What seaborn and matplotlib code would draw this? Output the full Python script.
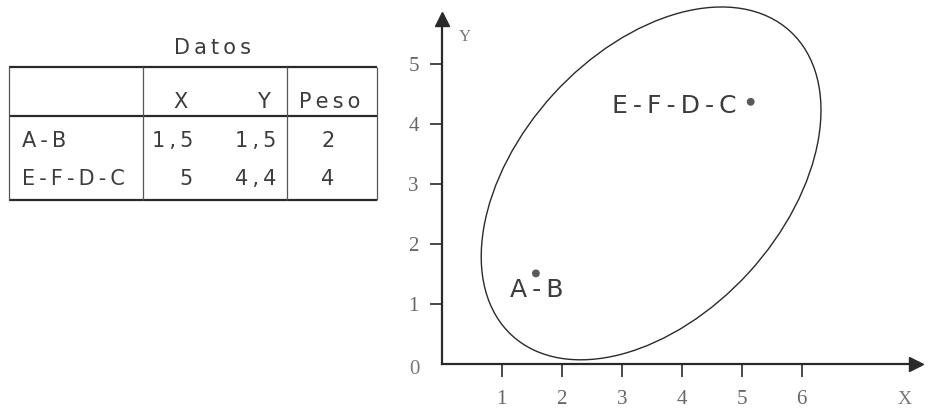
import matplotlib
matplotlib.use("Agg")
import matplotlib.pyplot as plt
from matplotlib.patches import Ellipse
import pandas as pd
import seaborn as sns

# table contents
table_title = "Datos"
col_labels = ["X", "Y", "Peso"]
row_labels = ["A-B", "E-F-D-C"]
x_text = ["1,5", "5"]
y_text = ["1,5", "4,4"]
peso_text = ["2", "4"]

# points as they sit on the drawing
point_names = ["A-B", "E-F-D-C"]
point_x = [1.57, 5.15]
point_y = [1.51, 4.37]

# grouping ellipse
ell_center = (3.49, 3.01)
ell_width = 6.87
ell_height = 4.41
ell_angle = 47.6

x_ticks = [1, 2, 3, 4, 5, 6]
y_ticks = [1, 2, 3, 4, 5]

sns.set_theme(style="white")
plt.rcParams['font.family'] = ['DejaVu Sans']

TEXT = "#3c3c3c"
LINE = "#2a2a2a"
SERIF = "Liberation Serif"


def spaced(s):
    """Loose letter spacing like the typeset original"""
    return "\u2009".join(s)


fig = plt.figure(figsize=(9.3, 4.09), dpi=100)
fig.patch.set_facecolor("white")

# ---- data table (drawn in pixel coordinates) ----
tab = fig.add_axes([0, 0, 400 / 930, 1])
tab.set_xlim(0, 400)
tab.set_ylim(409, 0)
tab.axis("off")

top, mid, bot = 66.7, 115.7, 200
left, c1, c2, right = 9, 143, 286.7, 377
tab.hlines([top, mid, bot], left, right, color=LINE, lw=1.6)
tab.vlines([left, c1, c2, right], top, bot, color="#555555", lw=0.9)

tab.text(212, 48, spaced(table_title), ha="center", va="center", fontsize=15, color=TEXT)
tab.text(180, 101.7, col_labels[0], ha="center", va="center", fontsize=15, color=TEXT)
tab.text(270, 101.7, col_labels[1], ha="right", va="center", fontsize=15, color=TEXT)
tab.text(330, 101.7, spaced(col_labels[2]), ha="center", va="center", fontsize=15, color=TEXT)

row_y = [141, 179]
for i, name in enumerate(row_labels):
    tab.text(21.7, row_y[i], spaced(name), ha="left", va="center", fontsize=15, color=TEXT)
    tab.text(193, row_y[i], spaced(x_text[i]), ha="right", va="center", fontsize=15, color=TEXT)
    tab.text(276, row_y[i], spaced(y_text[i]), ha="right", va="center", fontsize=15, color=TEXT)
    tab.text(328, row_y[i], peso_text[i], ha="center", va="center", fontsize=15, color=TEXT)

# ---- scatter with the ellipse ----
ax = fig.add_axes([441.7 / 930, 45 / 409, 474 / 930, 345 / 409])
ax.set_facecolor("white")
ax.set_xlim(0, 7.9)
ax.set_ylim(0, 5.75)

df = pd.DataFrame({"nombre": point_names, "x": point_x, "y": point_y})
sns.scatterplot(data=df, x="x", y="y", s=32, color="#5a5a5a", edgecolor="none",
                ax=ax, zorder=3, legend=False)

ell = Ellipse(ell_center, ell_width, ell_height, angle=ell_angle,
              fill=False, edgecolor=LINE, lw=1.0, clip_on=False)
ax.add_patch(ell)

ax.annotate(spaced(point_names[0]), (point_x[0], point_y[0]), xytext=(1, -17),
            textcoords="offset pixels", ha="center", va="center",
            fontsize=18, color=TEXT)
ax.annotate(spaced(point_names[1]), (point_x[1], point_y[1]), xytext=(-14, -4),
            textcoords="offset pixels", ha="right", va="center",
            fontsize=18, color=TEXT)

for side in ["top", "right"]:
    ax.spines[side].set_visible(False)
for side in ["left", "bottom"]:
    ax.spines[side].set_color(LINE)
    ax.spines[side].set_linewidth(1.6)

# arrow heads on the axes
ax.plot(1, 0, marker=">", ms=10, color=LINE, transform=ax.transAxes, clip_on=False)
ax.plot(0, 1, marker="^", ms=10, color=LINE, transform=ax.transAxes, clip_on=False)

ax.set_xticks(x_ticks)
ax.set_yticks(y_ticks)
ax.set_xticklabels([str(t) for t in x_ticks], fontfamily=SERIF)
ax.set_yticklabels([str(t) for t in y_ticks], fontfamily=SERIF)
ax.tick_params(axis="x", direction="out", length=9.5, width=1.2, pad=9,
               labelsize=15, color=LINE, labelcolor="#666666", bottom=True)
ax.tick_params(axis="y", direction="out", length=8.5, width=1.2, pad=8,
               labelsize=15, color=LINE, labelcolor="#666666", left=True)
ax.set_xlabel("")
ax.set_ylabel("")

ax.text(-0.45, -0.1, "0", ha="center", va="center", fontsize=15,
        color="#777777", fontfamily=SERIF, clip_on=False)
ax.text(0.39, 5.45, "Y", ha="center", va="center", fontsize=12,
        color="#777777", fontfamily=SERIF, clip_on=False)
ax.text(7.72, -0.6, "X", ha="center", va="center", fontsize=14,
        color="#777777", fontfamily=SERIF, clip_on=False)

fig.savefig("out.png", dpi=100, facecolor="white")
